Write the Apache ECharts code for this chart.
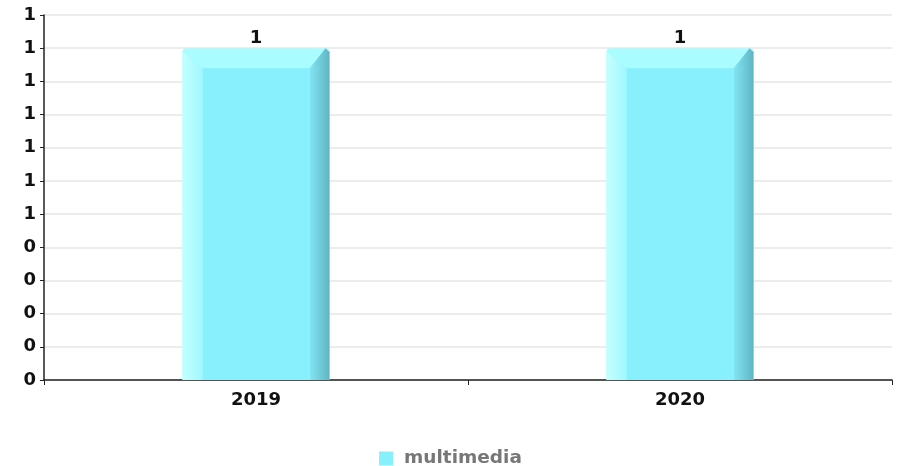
<!DOCTYPE html>
<html><head><meta charset="utf-8">
<script src="https://cdn.jsdelivr.net/npm/echarts@6/dist/echarts.min.js"></script>
<style>html,body{margin:0;padding:0;background:#fff}#c{width:901px;height:466px}</style>
</head><body><div id="c"></div>
<script>
const categories = ['2019', '2020'];
const seriesName = 'multimedia';
const values = [1, 1];
const yMax = 1.1;
const yStep = 0.1;

const chart = echarts.init(document.getElementById('c'), null, {renderer: 'canvas'});
const FONT = 'DejaVu Sans';
const BEV = 20;

function renderItem(params, api) {
  const x = api.value(0), v = api.value(1);
  const top = api.coord([x, v]);
  const base = api.coord([x, 0]);
  const w = api.size([1, 0])[0] * 0.347;
  const l = top[0] - w / 2, r = top[0] + w / 2;
  const t = top[1], b = base[1];
  return {
    type: 'group',
    children: [
      {type: 'rect', shape: {x: l, y: t, width: w, height: b - t, r: [4, 4, 0, 0]}, style: {fill: '#a9fcff'}},
      {type: 'rect', shape: {x: l + BEV, y: t + BEV, width: w - 2 * BEV, height: b - t - BEV}, style: {fill: '#88f0fc'}},
      {type: 'polygon', shape: {points: [[l, t + 3], [l + BEV, t + BEV], [l + BEV, b], [l, b]]},
        style: {fill: new echarts.graphic.LinearGradient(0, 0, 1, 0, [{offset: 0, color: '#c4ffff'}, {offset: 1, color: '#a0f8ff'}])}},
      {type: 'polygon', shape: {points: [[r, t + 4], [r, b], [r - BEV, b], [r - BEV, t + BEV], [r - 4, t]]},
        style: {fill: new echarts.graphic.LinearGradient(0, 0, 1, 0, [{offset: 0, color: '#84e6f2'}, {offset: 1, color: '#5fb4c4'}])}},
      {type: 'text', style: {text: String(v), x: top[0], y: t - 1, align: 'center', verticalAlign: 'bottom',
        font: 'bold 18px "DejaVu Sans"', fill: '#111'}}
    ]
  };
}

chart.setOption({
  animation: false,
  grid: {left: 44, right: 9, top: 15, bottom: 86, containLabel: false},
  legend: {
    data: [seriesName], top: 444, left: 'center', icon: 'rect', itemWidth: 14, itemHeight: 14, itemGap: 10,
    textStyle: {fontFamily: FONT, fontWeight: 'bold', fontSize: 18.5, color: '#777', padding: [0, 0, 0, 6]}
  },
  xAxis: {
    type: 'category', data: categories,
    axisLine: {lineStyle: {color: '#222', width: 1.5}},
    axisTick: {show: true, length: 5, lineStyle: {color: '#222'}},
    axisLabel: {fontFamily: FONT, fontWeight: 'bold', fontSize: 18, color: '#111', margin: 11},
    splitLine: {show: false}
  },
  yAxis: {
    type: 'value', min: 0, max: yMax, interval: yStep,
    axisLine: {show: true, lineStyle: {color: '#222', width: 1.5}},
    axisTick: {show: true, length: 4, lineStyle: {color: '#222'}},
    axisLabel: {fontFamily: FONT, fontWeight: 'bold', fontSize: 18, color: '#111', margin: 8,
      formatter: v => String(Math.round(v))},
    splitLine: {lineStyle: {color: '#e6e6e6', width: 1.5}}
  },
  series: [{
    type: 'custom', name: seriesName, renderItem: renderItem,
    itemStyle: {color: '#88f0fc'},
    encode: {x: 0, y: 1},
    data: categories.map((c, i) => [i, values[i]])
  }]
});
</script></body></html>
